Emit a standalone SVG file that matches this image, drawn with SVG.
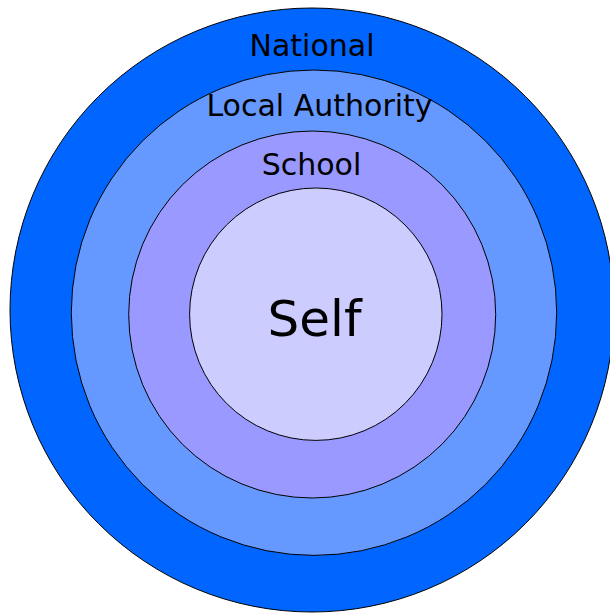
<svg xmlns="http://www.w3.org/2000/svg" width="610" height="613" viewBox="0 0 610 613">
<style>
.ring{stroke:#000;stroke-width:1}
.lbl{font-family:"DejaVu Sans",Verdana,sans-serif;fill:#000;text-anchor:middle}
</style>
<rect width="610" height="613" fill="#fff"/>
<g id="national"><circle class="ring" cx="312" cy="310" r="302" fill="#0066FF"/><text class="lbl" x="312" y="56" font-size="30">National</text></g>
<g id="local-authority"><circle class="ring" cx="314" cy="312.7" r="242.7" fill="#6699FF"/><text class="lbl" x="319.5" y="116" font-size="30">Local Authority</text></g>
<g id="school"><circle class="ring" cx="312.2" cy="314.5" r="183.5" fill="#9999FF"/><text class="lbl" x="311.5" y="174.5" font-size="30">School</text></g>
<g id="self"><circle class="ring" cx="315.8" cy="314.2" r="126.2" fill="#CCCCFF"/><text class="lbl" x="314.5" y="336" font-size="50">Self</text></g>
<g id="connectors"/>
</svg>
